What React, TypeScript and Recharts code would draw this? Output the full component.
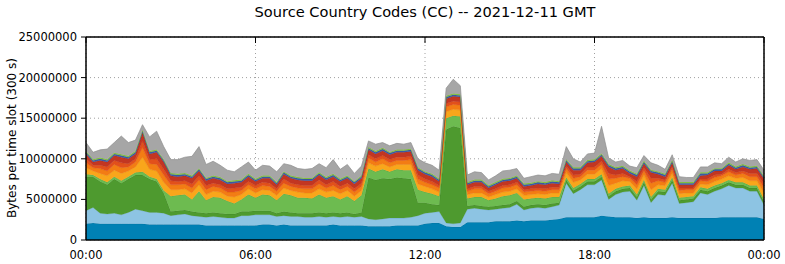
import { AreaChart, Area, XAxis, YAxis, CartesianGrid, ReferenceArea } from "recharts";

// 15-minute samples, 00:00 .. 24:00 (97 points), values in millions of bytes per slot
const slotTicks = [0, 24, 48, 72, 96];
const slotLabels = ["00:00", "06:00", "12:00", "18:00", "00:00"];
const byteTicks = [0, 5000000, 10000000, 15000000, 20000000, 25000000];

const darkBlue = [
  2.0, 2.1, 2.0, 2.0, 2.0, 2.0, 2.0, 2.0, 2.0, 1.9, 1.9, 1.9,
  1.9, 1.9, 1.9, 1.9, 1.9, 1.8, 1.8, 1.8, 1.8, 1.8, 1.8, 1.8, 1.8,
  1.9, 1.9, 1.8, 1.9, 1.8, 1.8, 1.8, 1.8, 1.8, 1.8, 1.9, 1.8, 1.8, 1.8, 1.8,
  1.7, 1.7, 1.7, 1.7, 1.8, 1.8, 1.8, 1.8,
  2.0, 2.1, 2.1, 1.7, 1.6, 1.6,
  2.2, 2.2, 2.2, 2.2, 2.3, 2.3, 2.3, 2.4, 2.3, 2.4, 2.4, 2.4, 2.5, 2.6,
  2.8, 2.8, 2.8, 2.8, 2.8, 3.0, 2.9, 2.8, 2.8, 2.8, 2.7, 2.8, 2.7, 2.7, 2.7,
  2.8, 2.7, 2.7, 2.7, 2.7, 2.7, 2.7, 2.8, 2.8, 2.8, 2.8, 2.8, 2.8, 2.6,
];
const lightBlue = [
  1.6, 1.9, 1.3, 1.2, 1.3, 1.1, 1.4, 1.8, 1.6, 1.5, 1.5, 1.4,
  1.1, 1.2, 1.3, 1.1, 1.0, 1.0, 1.1, 1.0, 0.9, 0.9, 1.2, 1.2, 1.3,
  1.2, 1.2, 1.1, 1.1, 1.1, 1.1, 1.0, 1.0, 1.1, 1.0, 1.0, 1.0, 1.1, 1.0, 1.1,
  0.9, 0.8, 0.9, 1.0, 0.9, 0.9, 1.0, 1.2,
  1.3, 1.3, 1.4, 0.4, 0.4, 0.5,
  1.6, 1.7, 1.6, 1.5, 1.5, 1.6, 1.7, 2.0, 1.4, 1.5, 1.6, 1.5, 1.6, 1.7,
  4.2, 2.9, 3.4, 4.0, 4.0, 4.4, 2.1, 2.8, 3.1, 3.2, 2.2, 3.9, 1.9, 2.9, 2.8,
  4.2, 1.8, 1.9, 2.0, 3.1, 2.9, 3.3, 3.5, 3.9, 3.6, 3.6, 3.2, 3.2, 1.7,
];
const darkGreen = [
  4.2, 3.8, 3.9, 3.6, 4.2, 3.9, 4.1, 4.2, 4.4, 4.1, 3.8, 2.5,
  0.5, 0.5, 0.5, 0.5, 0.5, 0.5, 0.5, 0.5, 0.5, 0.5, 0.5, 0.5, 0.5,
  0.5, 0.5, 0.4, 0.5, 0.5, 0.4, 0.5, 0.5, 0.5, 0.5, 0.5, 0.5, 0.5, 0.4, 0.5,
  5.1, 4.9, 5.0, 4.8, 5.0, 4.9, 4.7, 1.6,
  1.3, 1.0, 0.8, 11.5, 12.0, 11.7,
  0.4, 0.4, 0.4, 0.4, 0.4, 0.4, 0.4, 0.4, 0.4, 0.4, 0.4, 0.4, 0.4, 0.3,
  0.4, 0.4, 0.4, 0.4, 0.4, 0.4, 0.4, 0.4, 0.4, 0.4, 0.4, 0.4, 0.4, 0.4, 0.4,
  0.4, 0.4, 0.4, 0.4, 0.4, 0.4, 0.4, 0.4, 0.4, 0.4, 0.4, 0.4, 0.4, 0.4,
];
const lightGreen = [
  0.3, 0.2, 0.3, 0.3, 0.3, 0.3, 0.3, 0.3, 0.4, 0.3, 0.3, 0.3,
  1.9, 1.9, 1.9, 1.5, 2.6, 1.6, 1.9, 1.9, 1.6, 1.3, 1.5, 2.1, 1.6,
  2.0, 1.9, 1.6, 2.2, 2.1, 1.9, 1.9, 1.8, 2.2, 1.9, 2.0, 1.7, 2.0, 1.6, 2.1,
  1.1, 1.0, 1.1, 0.9, 1.0, 1.0, 1.1, 1.6,
  1.3, 1.3, 1.1, 1.4, 1.3, 1.4,
  0.9, 1.0, 1.1, 0.8, 0.9, 1.1, 1.1, 1.0, 0.9, 0.8, 0.8, 0.8, 0.8, 0.7,
  0.3, 0.3, 0.3, 0.3, 0.3, 0.3, 0.3, 0.3, 0.3, 0.3, 0.3, 0.3, 0.3, 0.3, 0.3,
  0.3, 0.3, 0.3, 0.3, 0.3, 0.3, 0.3, 0.3, 0.3, 0.3, 0.3, 0.3, 0.3, 0.3,
];
const amber = [
  0.8, 0.5, 0.7, 0.8, 0.8, 0.9, 0.7, 0.7, 1.8, 0.9, 1.0, 1.0,
  0.8, 0.7, 0.7, 0.8, 0.8, 0.7, 0.7, 0.7, 0.6, 0.8, 0.6, 0.7, 0.6,
  0.6, 0.6, 0.6, 0.7, 0.6, 0.7, 0.6, 0.7, 0.7, 0.7, 0.7, 0.7, 0.7, 0.6, 0.6,
  0.7, 0.7, 0.7, 0.6, 0.6, 0.7, 0.7, 0.7,
  0.7, 0.6, 0.5, 0.8, 0.8, 0.8,
  0.5, 0.5, 0.5, 0.4, 0.5, 0.5, 0.5, 0.5, 0.5, 0.5, 0.5, 0.5, 0.5, 0.5,
  0.6, 0.7, 0.5, 0.6, 0.6, 0.7, 1.0, 0.7, 0.7, 0.5, 0.7, 0.6, 0.9, 0.5, 0.5,
  0.5, 0.5, 0.5, 0.4, 0.4, 0.5, 0.5, 0.5, 0.5, 0.5, 0.6, 0.6, 0.6, 0.8,
];
const orange = [
  0.6, 0.4, 0.6, 0.6, 0.7, 0.7, 0.5, 0.6, 1.2, 0.7, 0.8, 0.9,
  0.6, 0.6, 0.6, 0.6, 0.6, 0.6, 0.6, 0.5, 0.5, 0.6, 0.5, 0.5, 0.5,
  0.5, 0.5, 0.5, 0.6, 0.5, 0.5, 0.5, 0.5, 0.6, 0.5, 0.6, 0.5, 0.5, 0.5, 0.5,
  0.6, 0.5, 0.6, 0.5, 0.5, 0.5, 0.6, 0.6,
  0.5, 0.5, 0.5, 0.6, 0.6, 0.6,
  0.4, 0.5, 0.5, 0.4, 0.4, 0.5, 0.5, 0.5, 0.4, 0.4, 0.4, 0.4, 0.4, 0.4,
  0.5, 0.5, 0.4, 0.5, 0.5, 0.5, 0.8, 0.6, 0.5, 0.4, 0.5, 0.5, 0.8, 0.5, 0.4,
  0.5, 0.4, 0.4, 0.4, 0.4, 0.4, 0.5, 0.4, 0.5, 0.4, 0.5, 0.5, 0.5, 0.6,
];
const darkOrange = [
  0.5, 0.3, 0.4, 0.5, 0.5, 0.6, 0.4, 0.4, 0.8, 0.5, 0.7, 0.7,
  0.5, 0.4, 0.4, 0.5, 0.5, 0.5, 0.4, 0.4, 0.4, 0.5, 0.4, 0.4, 0.4,
  0.4, 0.4, 0.3, 0.5, 0.4, 0.4, 0.4, 0.4, 0.5, 0.4, 0.5, 0.4, 0.4, 0.4, 0.4,
  0.4, 0.4, 0.4, 0.4, 0.4, 0.4, 0.4, 0.5,
  0.4, 0.4, 0.3, 0.4, 0.4, 0.4,
  0.3, 0.3, 0.3, 0.3, 0.3, 0.3, 0.3, 0.3, 0.3, 0.3, 0.3, 0.3, 0.3, 0.3,
  0.3, 0.4, 0.3, 0.4, 0.4, 0.4, 0.7, 0.4, 0.4, 0.2, 0.4, 0.4, 0.6, 0.3, 0.3,
  0.3, 0.3, 0.2, 0.2, 0.2, 0.3, 0.3, 0.2, 0.3, 0.3, 0.3, 0.4, 0.4, 0.5,
];
const red = [
  0.6, 0.4, 0.6, 0.6, 0.6, 0.7, 0.6, 0.6, 1.0, 0.7, 0.8, 0.9,
  0.6, 0.6, 0.6, 0.7, 0.6, 0.6, 0.6, 0.6, 0.6, 0.6, 0.6, 0.6, 0.5,
  0.5, 0.6, 0.5, 0.6, 0.6, 0.6, 0.6, 0.6, 0.6, 0.6, 0.6, 0.6, 0.6, 0.6, 0.6,
  0.6, 0.6, 0.6, 0.6, 0.6, 0.6, 0.6, 0.6,
  0.6, 0.6, 0.5, 0.6, 0.6, 0.6,
  0.5, 0.5, 0.5, 0.4, 0.5, 0.5, 0.5, 0.5, 0.4, 0.4, 0.5, 0.5, 0.5, 0.4,
  0.5, 0.6, 0.5, 0.5, 0.6, 0.6, 0.8, 0.6, 0.6, 0.4, 0.6, 0.5, 0.7, 0.5, 0.4,
  0.5, 0.4, 0.4, 0.4, 0.4, 0.5, 0.5, 0.4, 0.5, 0.4, 0.5, 0.5, 0.6, 0.6,
];
const blue = [
  0.2, 0.2, 0.2, 0.2, 0.2, 0.2, 0.2, 0.2, 0.2, 0.2, 0.2, 0.2,
  0.2, 0.2, 0.2, 0.2, 0.2, 0.2, 0.2, 0.2, 0.2, 0.2, 0.2, 0.2, 0.2,
  0.2, 0.2, 0.2, 0.2, 0.2, 0.2, 0.2, 0.2, 0.2, 0.2, 0.2, 0.2, 0.2, 0.2, 0.2,
  0.2, 0.2, 0.2, 0.2, 0.2, 0.2, 0.2, 0.2,
  0.2, 0.2, 0.2, 0.2, 0.2, 0.2,
  0.2, 0.2, 0.2, 0.2, 0.2, 0.2, 0.2, 0.2, 0.2, 0.2, 0.2, 0.2, 0.2, 0.2,
  0.2, 0.2, 0.2, 0.2, 0.2, 0.2, 0.2, 0.2, 0.2, 0.2, 0.2, 0.2, 0.2, 0.2, 0.2,
  0.2, 0.2, 0.2, 0.2, 0.3, 0.2, 0.2, 0.2, 0.2, 0.2, 0.2, 0.2, 0.2, 0.2,
];
const lime = [
  0.15, 0.15, 0.15, 0.15, 0.15, 0.15, 0.15, 0.15, 0.15, 0.15, 0.15, 0.15,
  0.15, 0.15, 0.15, 0.15, 0.15, 0.15, 0.15, 0.15, 0.15, 0.15, 0.15, 0.15, 0.15,
  0.15, 0.15, 0.15, 0.15, 0.15, 0.15, 0.15, 0.15, 0.15, 0.15, 0.15, 0.15, 0.15, 0.15, 0.15,
  0.15, 0.15, 0.15, 0.15, 0.15, 0.15, 0.15, 0.15,
  0.15, 0.15, 0.15, 0.15, 0.15, 0.15,
  0.15, 0.15, 0.15, 0.15, 0.15, 0.15, 0.15, 0.15, 0.15, 0.15, 0.15, 0.15, 0.15, 0.15,
  0.15, 0.15, 0.15, 0.15, 0.15, 0.15, 0.15, 0.15, 0.15, 0.15, 0.15, 0.15, 0.15, 0.15, 0.15,
  0.15, 0.15, 0.15, 0.15, 0.15, 0.15, 0.15, 0.15, 0.15, 0.15, 0.15, 0.15, 0.15, 0.15,
];
const gray = [
  1.05, 0.85, 0.95, 1.25, 1.25, 2.25, 1.65, 1.35, 0.65, 1.75, 2.25, 1.55,
  1.65, 1.75, 1.95, 2.35, 2.65, 1.65, 1.75, 1.45, 1.35, 1.05, 1.55, 1.45, 1.05,
  1.25, 1.15, 1.25, 0.95, 1.25, 1.05, 1.05, 1.15, 1.05, 1.15, 1.75, 1.15, 1.35, 0.95, 1.15,
  0.75, 0.85, 0.65, 0.75, 0.75, 0.65, 0.75, 1.05,
  1.05, 1.05, 1.05, 0.95, 1.75, 1.05,
  0.85, 0.95, 0.85, 0.65, 0.75, 0.95, 0.95, 0.85, 0.65, 0.75, 0.75, 0.75, 0.85, 0.85,
  1.55, 1.05, 0.65, 0.75, 0.75, 3.35, 0.75, 0.65, 0.65, 0.55, 0.75, 0.65, 0.85, 0.75, 0.55,
  0.65, 0.65, 0.55, 0.55, 0.65, 0.65, 0.65, 0.55, 0.65, 0.55, 0.65, 0.75, 0.75, 0.75,
];

const layers = [
  { key: "darkBlue", values: darkBlue, fill: "#0081b4", stroke: "#006c98" },
  { key: "lightBlue", values: lightBlue, fill: "#8dc4e3", stroke: "#6fa7c8" },
  { key: "darkGreen", values: darkGreen, fill: "#4e9a2f", stroke: "#3f8225" },
  { key: "lightGreen", values: lightGreen, fill: "#6dbb50", stroke: "#58a23e" },
  { key: "amber", values: amber, fill: "#f9a61b", stroke: "#e3920e" },
  { key: "orange", values: orange, fill: "#f37c14", stroke: "#d9690b" },
  { key: "darkOrange", values: darkOrange, fill: "#e2501b", stroke: "#c84212" },
  { key: "red", values: red, fill: "#c23622", stroke: "#a72b1a" },
  { key: "blue", values: blue, fill: "#3a5ca8", stroke: "#2f4d90" },
  { key: "lime", values: lime, fill: "#86c443", stroke: "#72ad35" },
  { key: "gray", values: gray, fill: "#a6a6a6", stroke: "#8e8e8e" },
];

const data = darkBlue.map((_, i) => {
  const row: Record<string, number> = { slot: i };
  layers.forEach((l) => {
    row[l.key] = Math.round(l.values[i] * 1e6);
  });
  return row;
});

const font = "'DejaVu Sans', sans-serif";
const tickStyle = { fill: "#000", fontSize: 11.5, fontFamily: font };
const noLabel = () => <g />;

export default function App() {
  return (
    <div
      style={{
        position: "absolute",
        left: 0,
        top: 0,
        width: 785,
        height: 264,
        background: "#fff",
        fontFamily: font,
      }}
    >
      <div
        style={{
          position: "absolute",
          left: 86,
          width: 678,
          top: 3,
          textAlign: "center",
          fontSize: 14.6,
          color: "#000",
          whiteSpace: "nowrap",
        }}
      >
        Source Country Codes (CC) -- 2021-12-11 GMT
      </div>
      <div
        style={{
          position: "absolute",
          left: 12,
          top: 138,
          transform: "translate(-50%, -50%) rotate(-90deg)",
          whiteSpace: "nowrap",
          fontSize: 12,
          color: "#000",
        }}
      >
        Bytes per time slot (300 s)
      </div>
      <AreaChart
        width={785}
        height={264}
        data={data}
        margin={{ top: 36, right: 20, bottom: 0, left: 0 }}
      >
        <CartesianGrid stroke="#a0a0a0" strokeDasharray="1 3" />
        <XAxis
          dataKey="slot"
          type="number"
          domain={[0, 96]}
          ticks={slotTicks}
          interval={0}
          tickFormatter={(v: number) => slotLabels[slotTicks.indexOf(v)]}
          height={24}
          tickLine={false}
          tickSize={0}
          tickMargin={11}
          stroke="#000"
          tick={tickStyle}
        />
        <XAxis
          xAxisId="top"
          orientation="top"
          type="number"
          domain={[0, 96]}
          ticks={slotTicks}
          interval={0}
          height={1}
          tickSize={-6}
          stroke="#000"
          tick={noLabel}
        />
        <YAxis
          type="number"
          domain={[0, 25000000]}
          ticks={byteTicks}
          interval={0}
          width={86}
          tickSize={5}
          tickMargin={4}
          stroke="#000"
          tick={tickStyle}
        />
        <YAxis
          yAxisId="right"
          orientation="right"
          type="number"
          domain={[0, 25000000]}
          ticks={byteTicks}
          interval={0}
          width={1}
          tickSize={-6}
          stroke="#000"
          tick={noLabel}
        />
        {layers.map((l) => (
          <Area
            key={l.key}
            type="linear"
            dataKey={l.key}
            stackId="cc"
            fill={l.fill}
            fillOpacity={1}
            stroke={l.stroke}
            strokeWidth={0.7}
            dot={false}
            activeDot={false}
            isAnimationActive={false}
          />
        ))}
        <ReferenceArea
          x1={0}
          x2={96}
          y1={0}
          y2={25000000}
          fill="none"
          fillOpacity={0}
          stroke="#000"
          strokeWidth={1}
        />
      </AreaChart>
    </div>
  );
}
